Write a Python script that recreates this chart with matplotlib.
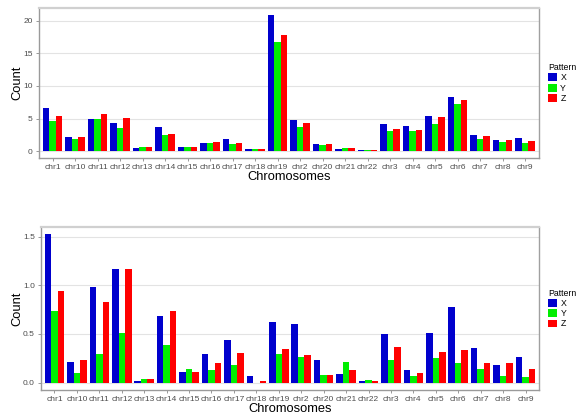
import numpy as np
import matplotlib
matplotlib.use("Agg")
import matplotlib.pyplot as plt
from matplotlib.patches import Patch

plt.rcParams['font.family'] = ['Liberation Sans', 'DejaVu Sans']

chromosomes = ['chr1', 'chr10', 'chr11', 'chr12', 'chr13', 'chr14', 'chr15',
               'chr16', 'chr17', 'chr18', 'chr19', 'chr2', 'chr20', 'chr21',
               'chr22', 'chr3', 'chr4', 'chr5', 'chr6', 'chr7', 'chr8', 'chr9']
patterns = ['X', 'Y', 'Z']

# counts per chromosome, upper panel
top_x = [6.63, 2.19, 5.00, 4.39, 0.46, 3.72, 0.61, 1.22, 1.84, 0.41, 20.9,
         4.85, 1.17, 0.41, 0.20, 4.23, 3.83, 5.46, 8.27, 2.55, 1.68, 2.09]
top_y = [4.69, 1.89, 4.95, 3.62, 0.71, 2.55, 0.71, 1.28, 1.07, 0.31, 16.7,
         3.78, 0.92, 0.56, 0.20, 3.11, 3.11, 4.18, 7.24, 1.94, 1.43, 1.33]
top_z = [5.46, 2.24, 5.77, 5.05, 0.61, 2.70, 0.71, 1.48, 1.33, 0.41, 17.76,
         4.34, 1.12, 0.56, 0.20, 3.42, 3.32, 5.26, 7.86, 2.40, 1.73, 1.58]

# counts per chromosome, lower panel
bot_x = [1.524, 0.213, 0.982, 1.171, 0.017, 0.683, 0.113, 0.299, 0.436,
         0.065, 0.625, 0.606, 0.236, 0.092, 0.020, 0.503, 0.130, 0.510,
         0.780, 0.356, 0.185, 0.267]
bot_y = [0.735, 0.103, 0.299, 0.515, 0.038, 0.388, 0.144, 0.134, 0.179,
         0.0, 0.295, 0.260, 0.082, 0.216, 0.030, 0.236, 0.068, 0.250,
         0.205, 0.137, 0.065, 0.062]
bot_z = [0.937, 0.237, 0.831, 1.171, 0.038, 0.735, 0.113, 0.199, 0.306,
         0.020, 0.350, 0.281, 0.082, 0.130, 0.020, 0.370, 0.099, 0.312,
         0.339, 0.199, 0.199, 0.140]

colors = {'X': '#0000CD', 'Y': '#00EE00', 'Z': '#FF0000'}
text_grey = '#4D4D4D'


def draw_panel(ax, series, ticks):
    pos = np.arange(len(chromosomes))
    w = 0.29
    for i, (name, vals) in enumerate(zip(patterns, series)):
        ax.bar(pos + (i - 1) * w, vals, width=w, color=colors[name],
               zorder=3)
    ymax = max(max(s) for s in series)
    ax.set_ylim(-0.05 * ymax, 1.05 * ymax)
    ax.set_xlim(-0.6, len(chromosomes) - 0.4)
    ax.set_xticks(pos)
    ax.set_xticklabels(chromosomes)
    ax.set_yticks(ticks)
    ax.grid(axis='y', color='#E3E3E3', linewidth=0.8, zorder=0)
    ax.tick_params(labelsize=6, colors='#888888', labelcolor=text_grey,
                   length=2.5, width=0.6, pad=2)
    for side in ['left', 'bottom']:
        ax.spines[side].set_color('#9A9A9A')
        ax.spines[side].set_linewidth(1.0)
    ax.spines['top'].set_color('#D0D0D0')
    ax.spines['top'].set_linewidth(1.6)
    ax.spines['right'].set_color('#A0A0A0')
    ax.spines['right'].set_linewidth(1.0)
    ax.set_xlabel('Chromosomes', fontsize=9.3, labelpad=0)
    ax.set_ylabel('Count', fontsize=9.3, labelpad=0)
    handles = [Patch(facecolor=colors[p], label=p) for p in patterns]
    leg = ax.legend(handles=handles, title='Pattern', loc='center left',
                    bbox_to_anchor=(1.01, 0.5), frameon=False, fontsize=6.3,
                    title_fontsize=6.3, handlelength=1.0, handleheight=1.0,
                    handletextpad=0.4, labelspacing=0.15, borderpad=0)
    leg._legend_box.align = 'left'


fig = plt.figure(figsize=(5.77, 4.17), dpi=100)
ax1 = fig.add_axes([0.0676, 0.621, 0.866, 0.360])
ax2 = fig.add_axes([0.0711, 0.0647, 0.863, 0.391])

draw_panel(ax1, [top_x, top_y, top_z], [0, 5, 10, 15, 20])
draw_panel(ax2, [bot_x, bot_y, bot_z], [0.0, 0.5, 1.0, 1.5])
ax2.yaxis.set_major_formatter(matplotlib.ticker.FormatStrFormatter('%.1f'))

fig.savefig('out.png', dpi=100)
